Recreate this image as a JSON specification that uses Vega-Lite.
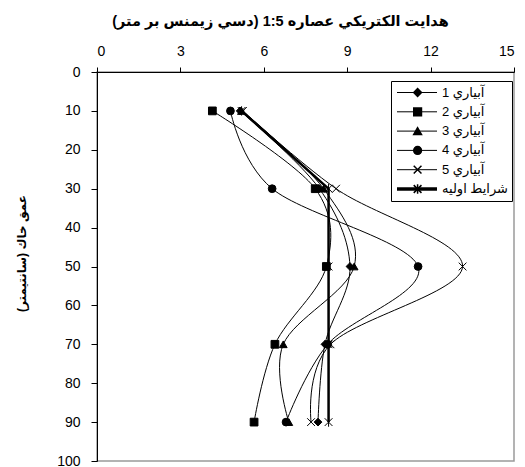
{
  "$schema": "https://vega.github.io/schema/vega-lite/v6.json",
  "autosize": {"type": "none"},
  "padding": {"left": 97, "top": 72, "right": 11, "bottom": 6},
  "width": 417,
  "height": 389,
  "background": "white",
  "config": {
    "view": {"stroke": "#9a9a9a", "strokeWidth": 1.5},
    "axis": {
      "grid": false,
      "domainColor": "black",
      "domainWidth": 1,
      "tickColor": "black",
      "labelColor": "black",
      "labelFont": "Liberation Sans",
      "labelFontSize": 14,
      "titleColor": "black",
      "titleFont": "Liberation Sans, DejaVu Sans",
      "titleFontWeight": "bold",
      "titleFontSize": 12
    }
  },
  "resolve": {"legend": {"shape": "independent", "strokeWidth": "independent"}},
  "data": {
    "values": [
      {"series": "آبياري 1", "depth": 10, "ec": 5.15},
      {"series": "آبياري 1", "depth": 30, "ec": 8.0},
      {"series": "آبياري 1", "depth": 50, "ec": 9.1},
      {"series": "آبياري 1", "depth": 70, "ec": 8.2},
      {"series": "آبياري 1", "depth": 90, "ec": 7.95},
      {"series": "آبياري 2", "depth": 10, "ec": 4.15},
      {"series": "آبياري 2", "depth": 30, "ec": 7.85},
      {"series": "آبياري 2", "depth": 50, "ec": 8.25},
      {"series": "آبياري 2", "depth": 70, "ec": 6.4},
      {"series": "آبياري 2", "depth": 90, "ec": 5.65},
      {"series": "آبياري 3", "depth": 10, "ec": 5.2},
      {"series": "آبياري 3", "depth": 30, "ec": 8.15},
      {"series": "آبياري 3", "depth": 50, "ec": 9.25},
      {"series": "آبياري 3", "depth": 70, "ec": 6.7},
      {"series": "آبياري 3", "depth": 90, "ec": 6.9},
      {"series": "آبياري 4", "depth": 10, "ec": 4.8},
      {"series": "آبياري 4", "depth": 30, "ec": 6.3},
      {"series": "آبياري 4", "depth": 50, "ec": 11.55},
      {"series": "آبياري 4", "depth": 70, "ec": 8.3},
      {"series": "آبياري 4", "depth": 90, "ec": 6.8},
      {"series": "آبياري 5", "depth": 10, "ec": 5.25},
      {"series": "آبياري 5", "depth": 30, "ec": 8.6},
      {"series": "آبياري 5", "depth": 50, "ec": 13.15},
      {"series": "آبياري 5", "depth": 70, "ec": 8.4},
      {"series": "آبياري 5", "depth": 90, "ec": 7.7},
      {"series": "شرايط اوليه", "depth": 10, "ec": 5.2},
      {"series": "شرايط اوليه", "depth": 30, "ec": 8.33},
      {"series": "شرايط اوليه", "depth": 50, "ec": 8.33},
      {"series": "شرايط اوليه", "depth": 70, "ec": 8.33},
      {"series": "شرايط اوليه", "depth": 90, "ec": 8.33}
    ]
  },
  "encoding": {
    "x": {
      "field": "ec", "type": "quantitative",
      "scale": {"domain": [0, 15], "nice": false},
      "axis": {
        "orient": "top",
        "values": [0, 3, 6, 9, 12, 15],
        "tickSize": 5,
        "labelPadding": 9,
        "title": "هدايت الكتريكي عصاره 1:5 (دسي زيمنس بر متر)",
        "titleFontSize": 14.5,
        "titleX": 183,
        "titleY": -47,
        "titleBaseline": "alphabetic",
        "titleAlign": "center"
      }
    },
    "y": {
      "field": "depth", "type": "quantitative",
      "scale": {"domain": [0, 100], "reverse": true, "nice": false},
      "axis": {
        "values": [0, 10, 20, 30, 40, 50, 60, 70, 80, 90, 100],
        "tickSize": 6,
        "labelPadding": 11,
        "title": "عمق خاك (سانتيمتر)",
        "titleX": -72,
        "titleY": 181,
        "titleBaseline": "alphabetic",
        "titleAlign": "center",
        "titleAngle": 270
      }
    },
    "order": {"field": "depth", "type": "quantitative"}
  },
  "layer": [
    {
      "transform": [{"filter": "datum.series != 'شرايط اوليه'"}],
      "mark": {"type": "line", "interpolate": "cardinal", "tension": 0, "color": "black"},
      "encoding": {
        "strokeWidth": {
          "field": "series", "type": "ordinal",
          "scale": {
            "type": "ordinal",
            "domain": ["آبياري 1", "آبياري 2", "آبياري 3", "آبياري 4", "آبياري 5", "شرايط اوليه"],
            "range": [1, 1, 1, 1, 1, 3.5]
          },
          "legend": {
            "title": null,
            "orient": "none",
            "legendX": 294,
            "legendY": 9,
            "padding": 4,
            "strokeColor": "black",
            "fillColor": "white",
            "symbolType": "stroke",
            "symbolSize": 1600,
            "symbolStrokeColor": "black",
            "clipHeight": 15,
            "rowPadding": 4.3,
            "labelOffset": 3,
            "labelFont": "Liberation Sans, DejaVu Sans",
            "labelFontSize": 13,
            "labelColor": "black"
          }
        }
      }
    },
    {
      "transform": [{"filter": "datum.series == 'شرايط اوليه'"}],
      "mark": {"type": "line", "color": "black"},
      "encoding": {
        "strokeWidth": {"field": "series", "type": "ordinal"}
      }
    },
    {
      "mark": {"type": "point", "fill": "black", "stroke": "black", "strokeWidth": 1, "opacity": 1, "fillOpacity": 1, "size": 60},
      "encoding": {
        "shape": {
          "field": "series", "type": "nominal",
          "scale": {
            "domain": ["آبياري 1", "آبياري 2", "آبياري 3", "آبياري 4", "آبياري 5", "شرايط اوليه"],
            "range": ["diamond", "square", "triangle-up", "circle", "M-1,-1L1,1M-1,1L1,-1", "M-1,-1L1,1M-1,1L1,-1M0,-1.2L0,1.2"]
          },
          "legend": {
            "title": null,
            "orient": "none",
            "legendX": 294,
            "legendY": 9,
            "padding": 4,
            "strokeColor": null,
            "fillColor": null,
            "symbolSize": 60,
            "symbolOffset": 16.1,
            "clipHeight": 15,
            "rowPadding": 4.3,
            "labelOffset": 3,
            "labelFontSize": 13,
            "labelExpr": "''",
            "encode": {
              "symbols": {
                "update": {
                  "fill": {"value": "black"},
                  "stroke": {"value": "black"},
                  "strokeWidth": {"value": 1},
                  "opacity": {"value": 1},
                  "fillOpacity": {"value": 1},
                  "strokeOpacity": {"value": 1}
                }
              }
            }
          }
        }
      }
    }
  ]
}
